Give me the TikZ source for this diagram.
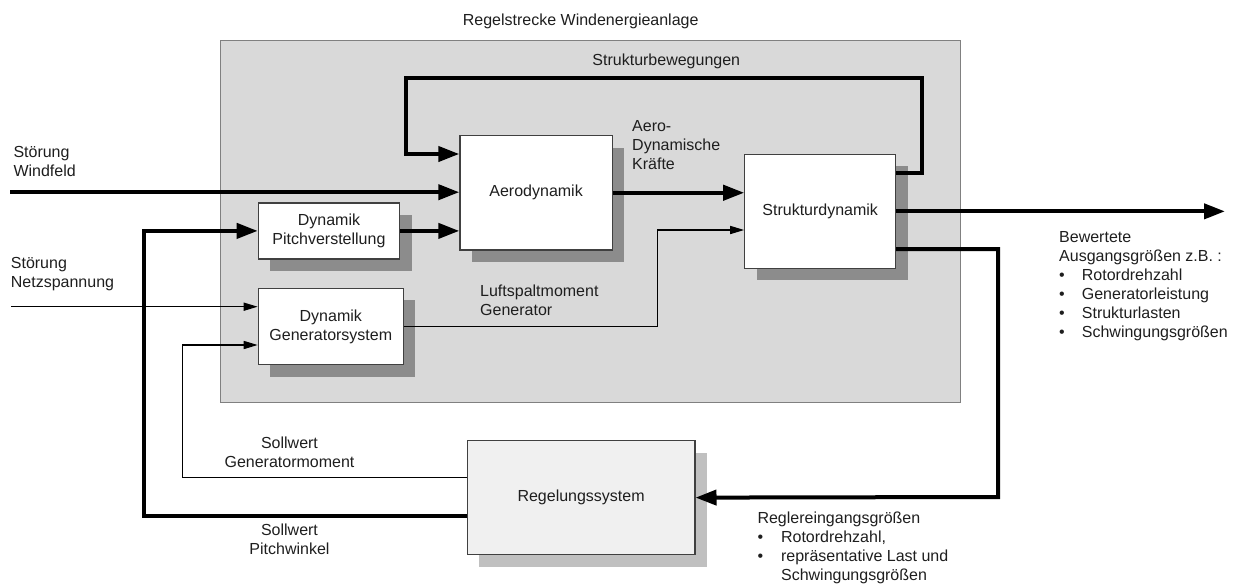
\documentclass[tikz,border=0pt]{standalone}
\usepackage{fontspec}
\setmainfont{Liberation Sans}
\usetikzlibrary{arrows.meta,shadows}
\definecolor{plantfill}{HTML}{D9D9D9}
\definecolor{plantdraw}{HTML}{808080}
\definecolor{boxdraw}{HTML}{404040}
\definecolor{shadowdark}{HTML}{8C8C8C}
\definecolor{shadowlight}{HTML}{C0C0C0}
\definecolor{ctrlfill}{HTML}{F0F0F0}
\definecolor{txt}{HTML}{1E1E1E}
\begin{document}
\begin{tikzpicture}[x=1pt,y=-1pt,
  every node/.style={font=\fontsize{16}{19}\selectfont, text=txt, inner sep=0pt},
  blockbox/.style={draw=boxdraw, line width=1.2pt, fill=white, anchor=north west, align=center,
    drop shadow={shadow xshift=12pt, shadow yshift=-12pt, fill=shadowdark, opacity=1}},
  ctrlbox/.style={blockbox, fill=ctrlfill,
    drop shadow={shadow xshift=12pt, shadow yshift=-12pt, fill=shadowlight, opacity=1}},
  plantbox/.style={draw=plantdraw, line width=1.2pt, fill=plantfill, anchor=north west},
  lbl/.style={align=left, anchor=north west},
  clbl/.style={align=center, anchor=north},
  thk/.style={line width=4pt, -{Triangle[length=21pt,width=15pt]}},
  thn/.style={line width=1.5pt, -{Triangle[length=14pt,width=8pt]}}
]
\useasboundingbox (0,0) rectangle (1235,584);

% plant
\node[plantbox, minimum width=740pt, minimum height=361.7pt] (plant) at (220,40) {};
\node[anchor=base] (title) at (580.7,25) {Regelstrecke Windenergieanlage};

% blocks
\node[blockbox, minimum width=141.3pt, minimum height=56pt] (pitch) at (257.7,202.3) {Dynamik\\Pitchverstellung};
\node[blockbox, minimum width=145pt, minimum height=76.3pt] (gen) at (257.7,287.7) {Dynamik\\Generatorsystem};
\node[blockbox, minimum width=152.4pt, minimum height=114.3pt] (aero) at (459.3,135) {Aerodynamik};
\node[blockbox, minimum width=150.8pt, minimum height=113.9pt] (struct) at (744.2,153.8) {Strukturdynamik};
\node[ctrlbox, minimum width=227.6pt, minimum height=114pt] (ctrl) at (466.7,440) {Regelungssystem};

% helper coordinates
\coordinate (wind) at (10,192.2);
\coordinate (netz) at (11,306.7);
\coordinate (loopR) at (921.7,77.7);
\coordinate (loopL) at (405.7,154);
\coordinate (genbend) at (657.3,230);
\coordinate (outtip) at (1225,0);
\coordinate (ctrlR) at (998,497);
\coordinate (pitchL) at (144.3,0);
\coordinate (genL) at (182.3,345);

% connectors
\draw[thk] (wind) -- (wind -| aero.west);
\draw[thk] (pitch.east) -- (pitch.east -| aero.west);
\draw[thk] (struct.east |- 0,172.7) -| (loopR) -| (loopL) -- (loopL -| aero.west);
\draw[thk] (aero.east) -- (aero.east -| struct.west);
\draw[thn] (gen.east) -| (genbend) -- (genbend -| struct.west);
\draw[thk] (struct.east) -- (struct.east -| outtip);
\draw[thk] (struct.east |- 0,249) -| (ctrlR) -- (ctrl.east);
\draw[thk] (ctrl.west |- 0,516) -| (pitchL |- pitch.west) -- (pitch.west);
\draw[thn] (ctrl.west |- 0,477.3) -| (genL) -- (genL -| gen.west);
\draw[thn] (netz) -- (netz -| gen.west);

% labels
\node[anchor=base] (lblstruct) at (666.3,65.7) {Strukturbewegungen};
\node[lbl] (lblaero) at (632,120.1) {Aero-\\Dynamische\\Kräfte};
\node[lbl] (lblwind) at (13.3,146.3) {Störung\\Windfeld};
\node[lbl] (lblnetz) at (10.7,257.3) {Störung\\Netzspannung};
\node[lbl] (lblluft) at (480,284.4) {Luftspaltmoment\\Generator};
\node[clbl] (lblsgen) at (289.5,436.5) {Sollwert\\Generatormoment};
\node[clbl] (lblspitch) at (289.5,523.3) {Sollwert\\Pitchwinkel};
\node[lbl] (lblout) at (1059,231.7) {Bewertete\\Ausgangsgrößen z.B. :\\
  \makebox[22.7pt][l]{•}Rotordrehzahl\\
  \makebox[22.7pt][l]{•}Generatorleistung\\
  \makebox[22.7pt][l]{•}Strukturlasten\\
  \makebox[22.7pt][l]{•}Schwingungsgrößen};
\node[lbl] (lblin) at (757.3,511.7) {Reglereingangsgrößen\\
  \makebox[23.6pt][l]{•}Rotordrehzahl,\\
  \makebox[23.6pt][l]{•}repräsentative Last und\\
  \hspace*{23.6pt}Schwingungsgrößen};
\end{tikzpicture}
\end{document}
